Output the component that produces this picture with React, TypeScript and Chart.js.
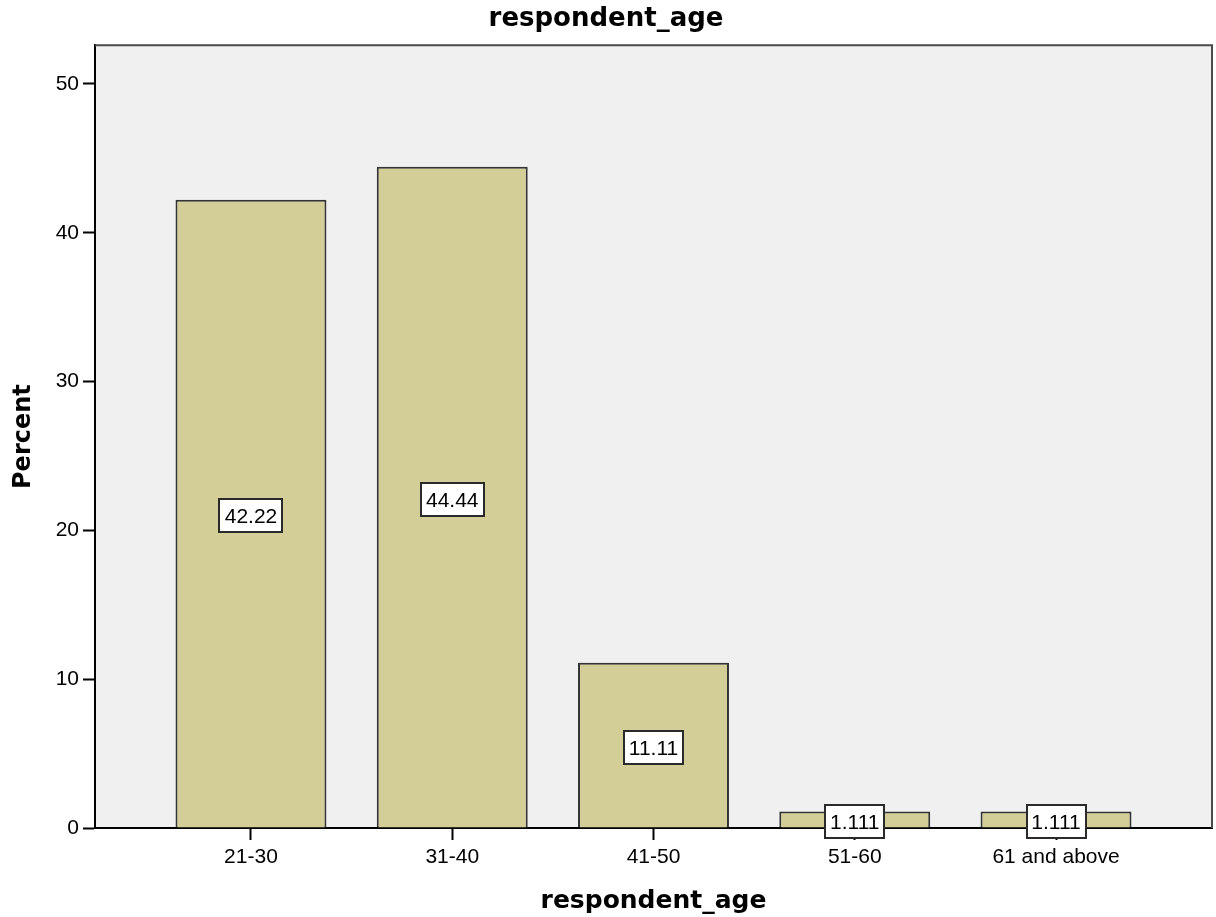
import React, { useEffect, useRef } from "react";
import { Chart, registerables } from "chart.js";

Chart.register(...registerables);

// ---- data ----
const chartTitle = "respondent_age";
const xAxisTitle = "respondent_age";
const yAxisTitle = "Percent";
const categories = ["21-30", "31-40", "41-50", "51-60", "61 and above"];
const percentValues = [42.22, 44.44, 11.11, 1.111, 1.111];
const valueLabels = ["42.22", "44.44", "11.11", "1.111", "1.111"];
const yTicks = [0, 10, 20, 30, 40, 50];
const yMax = 52.6;

// ---- style / layout ----
const W = 1216;
const H = 917;
const X_SIDE_PAD = 0.775;
const PLOT_BG = "#f0f0f0";
const BAR_FILL = "#d3ce97";
const BAR_EDGE = "#333333";
const TICK_FONT = "'Liberation Sans', Arial, sans-serif";
const TITLE_FONT = "'DejaVu Sans', Verdana, sans-serif";

const plotFrame = {
  id: "plotFrame",
  beforeDraw(chart: any) {
    const { ctx, chartArea: a } = chart;
    ctx.save();
    ctx.fillStyle = "#ffffff";
    ctx.fillRect(0, 0, chart.width, chart.height);
    ctx.fillStyle = PLOT_BG;
    ctx.fillRect(a.left, a.top, a.right - a.left, a.bottom - a.top);
    ctx.restore();
  },
  beforeDatasetsDraw(chart: any) {
    const { ctx, chartArea: a } = chart;
    ctx.save();
    ctx.strokeStyle = "#4a4a4a";
    ctx.lineWidth = 2;
    ctx.beginPath();
    ctx.moveTo(a.left, a.top);
    ctx.lineTo(a.right, a.top);
    ctx.lineTo(a.right, a.bottom);
    ctx.stroke();
    ctx.restore();
  },
};

const valueBoxes = {
  id: "valueBoxes",
  afterDatasetsDraw(chart: any) {
    const meta = chart.getDatasetMeta(0);
    const ctx = chart.ctx;
    ctx.save();
    ctx.font = `21px ${TICK_FONT}`;
    meta.data.forEach((bar: any, i: number) => {
      const { x, y, base } = bar.getProps(["x", "y", "base"], true);
      const cy = (y + base) / 2 + 2;
      const text = valueLabels[i];
      const tw = ctx.measureText(text).width;
      const bw = Math.round(tw + 10);
      const bh = 33;
      const bx = Math.round(x - bw / 2);
      const by = Math.round(cy - bh / 2);
      ctx.fillStyle = "#ffffff";
      ctx.fillRect(bx, by, bw, bh);
      ctx.strokeStyle = "#2a2a2a";
      ctx.lineWidth = 2;
      ctx.strokeRect(bx, by, bw, bh);
      ctx.fillStyle = "#000000";
      ctx.textAlign = "center";
      ctx.textBaseline = "alphabetic";
      ctx.fillText(text, x, by + bh / 2 + 7.5);
    });
    ctx.restore();
  },
};

export default function App() {
  const canvasRef = useRef<HTMLCanvasElement | null>(null);

  useEffect(() => {
    const canvas = canvasRef.current;
    if (!canvas) return;
    const chart = new Chart(canvas, {
      type: "bar",
      data: {
        datasets: [
          {
            label: yAxisTitle,
            data: categories.map((_, i) => ({ x: i, y: percentValues[i] })),
            backgroundColor: BAR_FILL,
            borderColor: BAR_EDGE,
            borderWidth: 2,
            barPercentage: 0.75,
            categoryPercentage: 1,
          },
        ],
      },
      options: {
        responsive: false,
        animation: false,
        devicePixelRatio: 1,
        layout: { padding: { left: 0, right: 4, top: 0, bottom: 0 } },
        plugins: {
          legend: { display: false },
          tooltip: { enabled: false },
          title: {
            display: true,
            text: chartTitle,
            color: "#000000",
            font: { family: TITLE_FONT, size: 26, weight: "bold", lineHeight: 1.2 },
            padding: { top: 4, bottom: 10 },
          },
        },
        scales: {
          x: {
            type: "linear",
            offset: false,
            min: -X_SIDE_PAD,
            max: categories.length - 1 + X_SIDE_PAD,
            afterBuildTicks: (s: any) => {
              s.ticks = categories.map((_, i) => ({ value: i }));
            },
            afterFit: (s: any) => {
              s.height = 89;
            },
            ticks: {
              callback: (v: any) => categories[v] ?? "",
              color: "#000000",
              font: { family: TICK_FONT, size: 21 },
              padding: 5,
              maxRotation: 0,
              autoSkip: false,
            },
            grid: {
              offset: false,
              drawOnChartArea: false,
              drawTicks: true,
              tickLength: 12,
              tickWidth: 2,
              tickColor: "#000000",
            },
            border: { display: true, color: "#000000", width: 2 },
            title: {
              display: true,
              text: xAxisTitle,
              color: "#000000",
              font: { family: TITLE_FONT, size: 25, weight: "bold", lineHeight: 1.2 },
              padding: { top: 0, bottom: 1 },
            },
          },
          y: {
            type: "linear",
            min: 0,
            max: yMax,
            afterBuildTicks: (s: any) => {
              s.ticks = yTicks.map((v) => ({ value: v }));
            },
            afterFit: (s: any) => {
              s.width = 95;
            },
            ticks: {
              color: "#000000",
              font: { family: TICK_FONT, size: 21 },
              padding: 4,
            },
            grid: {
              drawOnChartArea: false,
              drawTicks: true,
              tickLength: 12,
              tickWidth: 2,
              tickColor: "#000000",
            },
            border: { display: true, color: "#000000", width: 2 },
            title: {
              display: true,
              text: yAxisTitle,
              color: "#000000",
              font: { family: TITLE_FONT, size: 24, weight: "bold", lineHeight: 1.2 },
              padding: { top: 9, bottom: 0 },
            },
          },
        },
      } as any,
      plugins: [plotFrame, valueBoxes],
    });
    return () => chart.destroy();
  }, []);

  return (
    <div style={{ position: "fixed", left: 0, top: 0, width: W, height: H, background: "#fff" }}>
      <canvas ref={canvasRef} width={W} height={H} style={{ width: W, height: H, display: "block" }} />
    </div>
  );
}
